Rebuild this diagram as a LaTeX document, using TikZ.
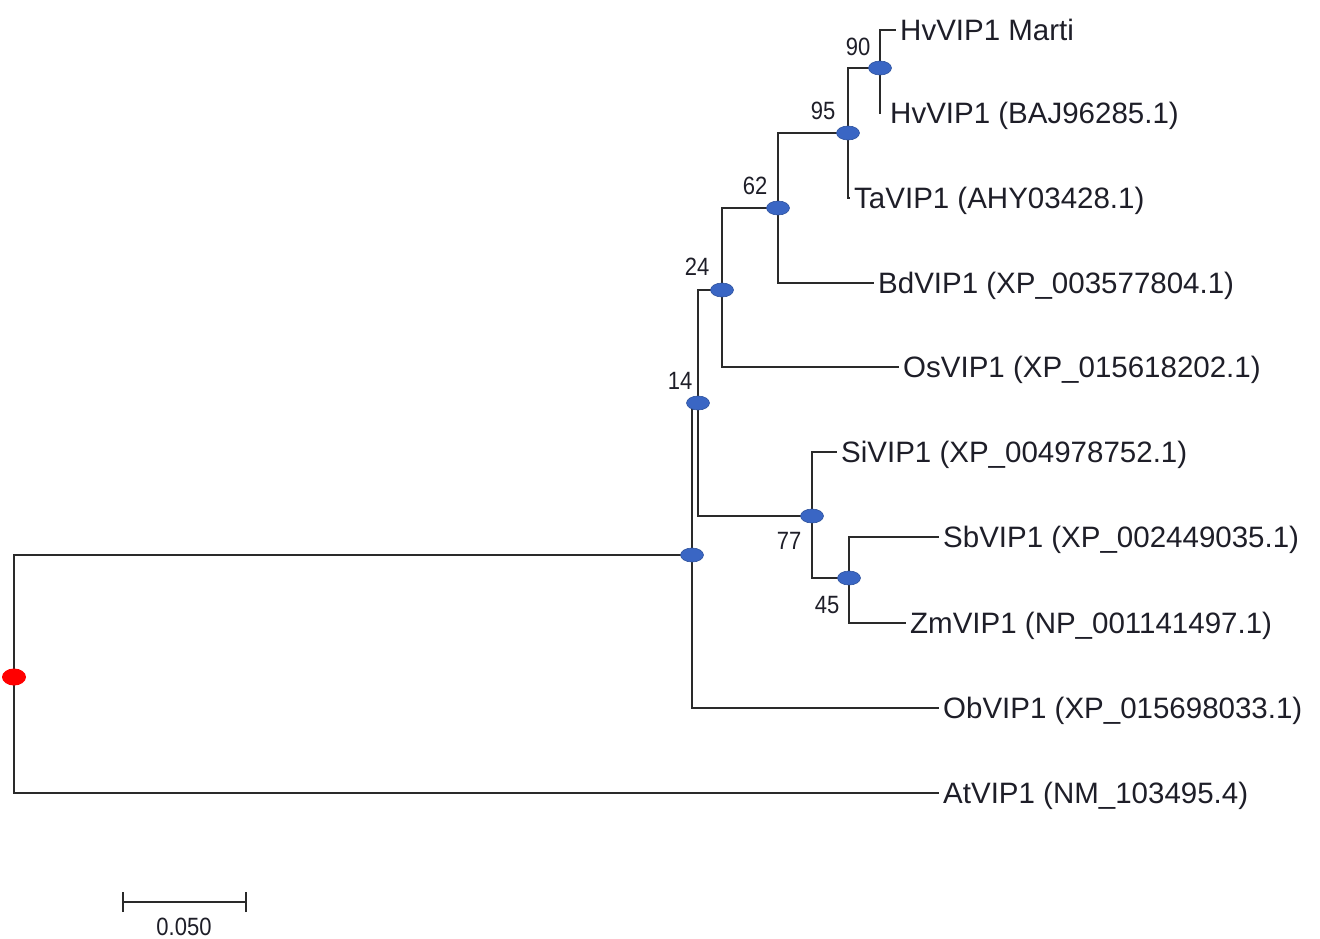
\documentclass[tikz,border=0pt]{standalone}
\usepackage{fontspec}
\setmainfont{Liberation Sans}
\newfontfamily\bsfont[FakeStretch=0.88]{Liberation Sans}
\usetikzlibrary{shapes.geometric,backgrounds}
\definecolor{linec}{HTML}{2A2A2A}
\definecolor{textc}{HTML}{1E1E28}
\definecolor{nodeblue}{HTML}{3A66C4}
\definecolor{rootred}{HTML}{FF0000}
\tikzset{
  branch/.style={draw=linec, line width=2.8pt, line cap=rect},
  inode/.style={ellipse, fill=nodeblue, draw=nodeblue!80!black, line width=0.6pt, minimum width=23pt, minimum height=14pt, inner sep=0pt},
  rootnode/.style={ellipse, fill=rootred, minimum width=24pt, minimum height=17pt, inner sep=0pt},
  leaf/.style={anchor=west, inner xsep=5pt, inner ysep=0pt, text height=20.5pt, text depth=0pt, text=textc, font=\fontsize{29.5}{34}\selectfont},
  boot/.style={inner sep=0pt, text=textc, font=\bsfont\fontsize{25}{28}\selectfont},
}
\begin{document}
\begin{tikzpicture}[x=1pt,y=-1pt]
\useasboundingbox (0,0) rectangle (1320,939);
% internal nodes
\node[rootnode] (r) at (14,677) {};
\node[inode] (nA) at (692,555) {};
\node[inode] (n14) at (698,403) {};
\node[inode] (n24) at (722,290) {};
\node[inode] (n62) at (778,208) {};
\node[inode] (n95) at (848,133) {};
\node[inode] (n90) at (880,68) {};
\node[inode] (n77) at (812,516) {};
\node[inode] (n45) at (849,578) {};
% leaves
\node[leaf] (hvm) at (895,30) {HvVIP1 Marti};
\node[leaf, inner xsep=10pt] (hvb) at (880,113) {HvVIP1 (BAJ96285.1)};
\node[leaf] (ta) at (849,198) {TaVIP1 (AHY03428.1)};
\node[leaf] (bd) at (873,283) {BdVIP1 (XP\_003577804.1)};
\node[leaf] (os) at (898,367) {OsVIP1 (XP\_015618202.1)};
\node[leaf] (si) at (836,452) {SiVIP1 (XP\_004978752.1)};
\node[leaf] (sb) at (938,537) {SbVIP1 (XP\_002449035.1)};
\node[leaf] (zm) at (905,623) {ZmVIP1 (NP\_001141497.1)};
\node[leaf] (ob) at (938,708) {ObVIP1 (XP\_015698033.1)};
\node[leaf] (at) at (938,793) {AtVIP1 (NM\_103495.4)};
% bootstrap values
\node[boot] (b90) at (858,47) {90};
\node[boot] (b95) at (823,111) {95};
\node[boot] (b62) at (755,186) {62};
\node[boot] (b24) at (697,267) {24};
\node[boot] (b14) at (680,381) {14};
\node[boot] (b77) at (789,541) {77};
\node[boot] (b45) at (827,605) {45};
% branches
\begin{scope}[on background layer]
\draw[branch] (r.center) |- (nA.center);
\draw[branch] (r.center) |- (at.west);
\draw[branch] (nA.center) |- (n14.center);
\draw[branch] (nA.center) |- (ob.west);
\draw[branch] (n14.center) |- (n24.center);
\draw[branch] (n14.center) |- (n77.center);
\draw[branch] (n24.center) |- (n62.center);
\draw[branch] (n24.center) |- (os.west);
\draw[branch] (n62.center) |- (n95.center);
\draw[branch] (n62.center) |- (bd.west);
\draw[branch] (n95.center) |- (n90.center);
\draw[branch] (n95.center) |- (ta.west);
\draw[branch] (n90.center) |- (hvm.west);
\draw[branch] (n90.center) |- (hvb.west);
\draw[branch] (n77.center) |- (si.west);
\draw[branch] (n77.center) |- (n45.center);
\draw[branch] (n45.center) |- (sb.west);
\draw[branch] (n45.center) |- (zm.west);
\end{scope}
% scale bar
\coordinate (sL) at (123,902);
\coordinate (sR) at (246,902);
\draw[branch, line cap=butt] (sL) -- (sR);
\draw[branch, line cap=butt] ([yshift=-10pt]sL) -- ([yshift=10pt]sL);
\draw[branch, line cap=butt] ([yshift=-10pt]sR) -- ([yshift=10pt]sR);
\node[boot] (slabel) at (184,927) {0.050};
\end{tikzpicture}
\end{document}
